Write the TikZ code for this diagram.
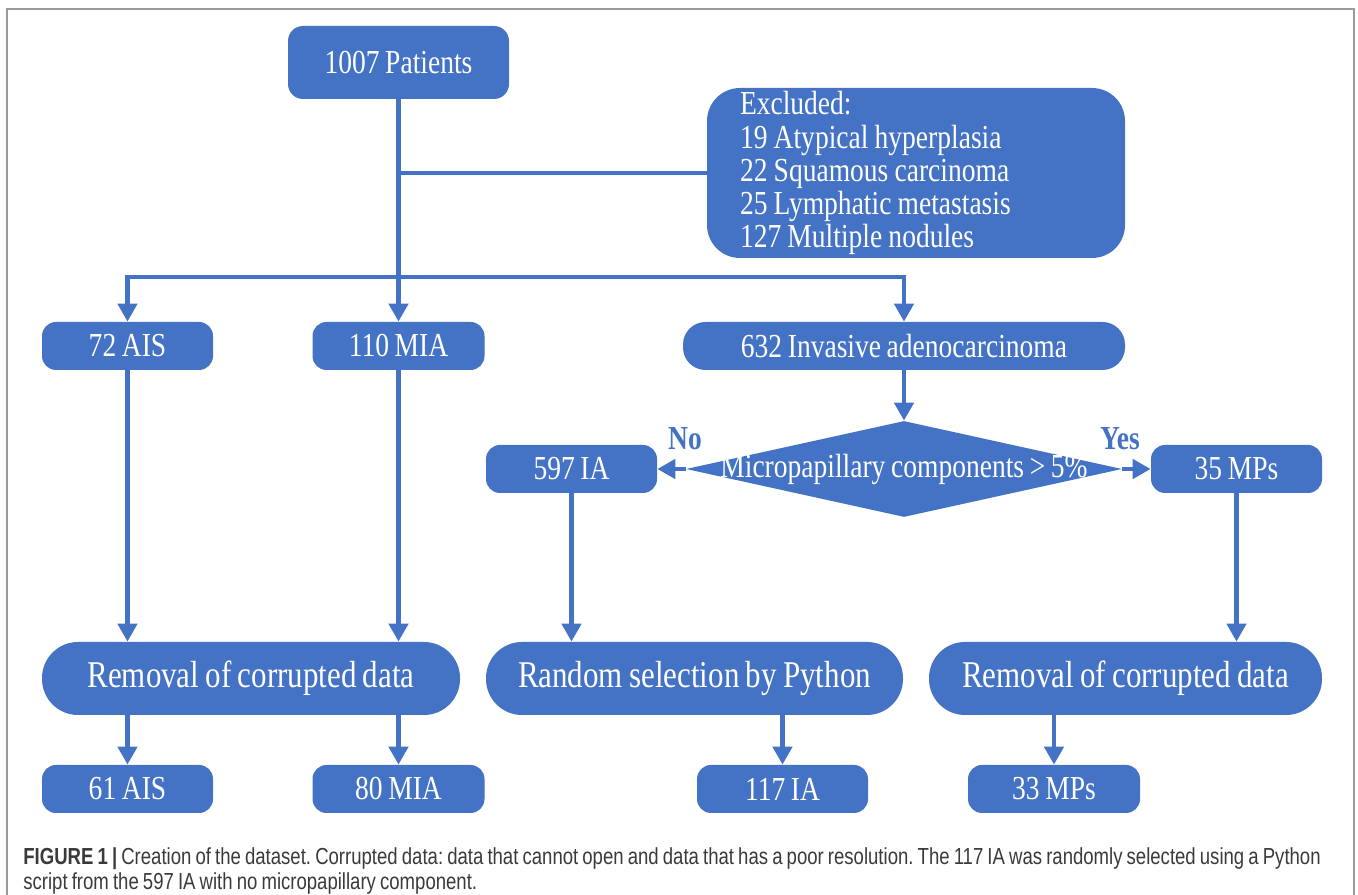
\documentclass[tikz,border=0pt]{standalone}
\usepackage{fontspec}
\setmainfont[FakeStretch=0.82, WordSpace=0.82]{Liberation Serif}
\newfontfamily\capfont[FakeStretch=0.8, WordSpace=0.8]{Liberation Sans}
\usepackage{tikz}
\usetikzlibrary{arrows.meta,positioning,shapes.geometric}
\definecolor{boxBlue}{HTML}{4472C4}
\definecolor{frameGray}{HTML}{9A9A9A}
\definecolor{capGray}{HTML}{3A3A3A}
\newcommand{\fixedspace}{\spaceskip=1.1\fontdimen2\font\relax}
\frenchspacing

\begin{document}
\begin{tikzpicture}[>={Triangle[width=0.38cm,length=0.36cm]},
    flow/.style={draw=boxBlue, line width=0.09cm},
    smallbox/.style={fill=boxBlue, text=white, rounded corners=0.28cm, minimum height=0.96cm, inner sep=0pt, font=\fontsize{19.1}{18.8}\selectfont},
    bigbox/.style={fill=boxBlue, text=white, rounded corners=0.72cm, minimum height=1.46cm, inner sep=0pt, font=\fontsize{21.5}{24}\selectfont},
    answer/.style={text=boxBlue, font=\fontsize{19.1}{18.8}\selectfont\bfseries}]
    \useasboundingbox (0,0) rectangle (27.16,17.9);
    % frame round the figure
    \draw[frameGray, line width=0.04cm] (0.14,0) -- (0.14,17.72) -- (27.08,17.72) -- (27.08,0);

    \node[smallbox, rounded corners=0.3cm, minimum width=4.42cm, minimum height=1.46cm] (pat) at (7.97,16.65) {1007 Patients};
    \node[fill=boxBlue, text=white, rounded corners=0.66cm, minimum width=8.36cm, minimum height=3.40cm, text width=7.04cm, inner xsep=0.66cm, inner ysep=0pt, align=left, font=\fontsize{19.1}{18.8}\selectfont] (excl) at (18.32,14.44) {\fixedspace Excluded:\\19 Atypical hyperplasia\\22 Squamous carcinoma\\25 Lymphatic metastasis\\127 Multiple nodules};

    \node[smallbox, minimum width=3.42cm] (ais) at (2.55,10.98) {72 AIS};
    \node[smallbox, minimum width=3.44cm] (mia) at (7.97,10.98) {110 MIA};
    \node[smallbox, rounded corners=0.45cm, minimum width=8.84cm] (inv) at (18.08,10.98) {632 Invasive adenocarcinoma};

    \node[diamond, fill=boxBlue, minimum width=8.72cm, minimum height=1.92cm, inner sep=0pt,
        label={[text=white, font=\fontsize{19.1}{18.8}\selectfont]center:Micropapillary components > 5\%}] (dia) at (18.08,8.52) {};
    \node[smallbox, minimum width=3.42cm] (ia597) at (11.43,8.52) {597 IA};
    \node[smallbox, minimum width=3.42cm] (mp35) at (24.73,8.52) {35 MPs};
    \node[answer] (no) at (13.70,9.12) {No};
    \node[answer] (yes) at (22.40,9.12) {Yes};

    \node[bigbox, minimum width=8.36cm] (rem1) at (5.02,4.33) {Removal of corrupted data};
    \node[bigbox, minimum width=8.34cm] (rand) at (13.89,4.33) {Random selection by Python};
    \node[bigbox, minimum width=7.86cm] (rem2) at (22.51,4.33) {Removal of corrupted data};

    \node[smallbox, minimum width=3.42cm] (ais61) at (2.55,2.12) {61 AIS};
    \node[smallbox, minimum width=3.44cm] (mia80) at (7.97,2.12) {80 MIA};
    \node[smallbox, minimum width=3.42cm] (ia117) at (15.65,2.12) {117 IA};
    \node[smallbox, minimum width=3.44cm] (mp33) at (21.08,2.12) {33 MPs};

    % connectors
    \coordinate (split) at (7.97,12.36);
    \draw[flow, ->] (pat) -- (mia);
    \draw[flow] (pat.south |- excl.west) -- (excl.west);
    \draw[flow, ->] (split) -| (ais);
    \draw[flow, ->] (split) -| (inv);
    \draw[flow, ->] (inv) -- (dia);
    \draw[flow, ->] (dia.west) -- (ia597.east);
    \draw[flow, ->] (dia.east) -- (mp35.west);
    \draw[flow, ->] (ais) -- (ais |- rem1.north);
    \draw[flow, ->] (mia) -- (mia |- rem1.north);
    \draw[flow, ->] (ia597) -- (ia597 |- rand.north);
    \draw[flow, ->] (mp35) -- (mp35 |- rem2.north);
    \draw[flow, ->] (ais61 |- rem1.south) -- (ais61);
    \draw[flow, ->] (mia80 |- rem1.south) -- (mia80);
    \draw[flow, ->] (ia117 |- rand.south) -- (ia117);
    \draw[flow, ->] (mp33 |- rem2.south) -- (mp33);

    % caption
    \node[anchor=base west, inner sep=0pt, text=capGray, font=\capfont\fontsize{13.2}{14}\selectfont] (cap1) at (0.46,0.60) {\textbf{FIGURE 1 |} Creation of the dataset. Corrupted data: data that cannot open and data that has a poor resolution. The 117 IA was randomly selected using a Python};
    \node[anchor=base west, inner sep=0pt, text=capGray, font=\capfont\fontsize{13.2}{14}\selectfont] (cap2) at (0.46,0.10) {script from the 597 IA with no micropapillary component.};
\end{tikzpicture}
\end{document}
